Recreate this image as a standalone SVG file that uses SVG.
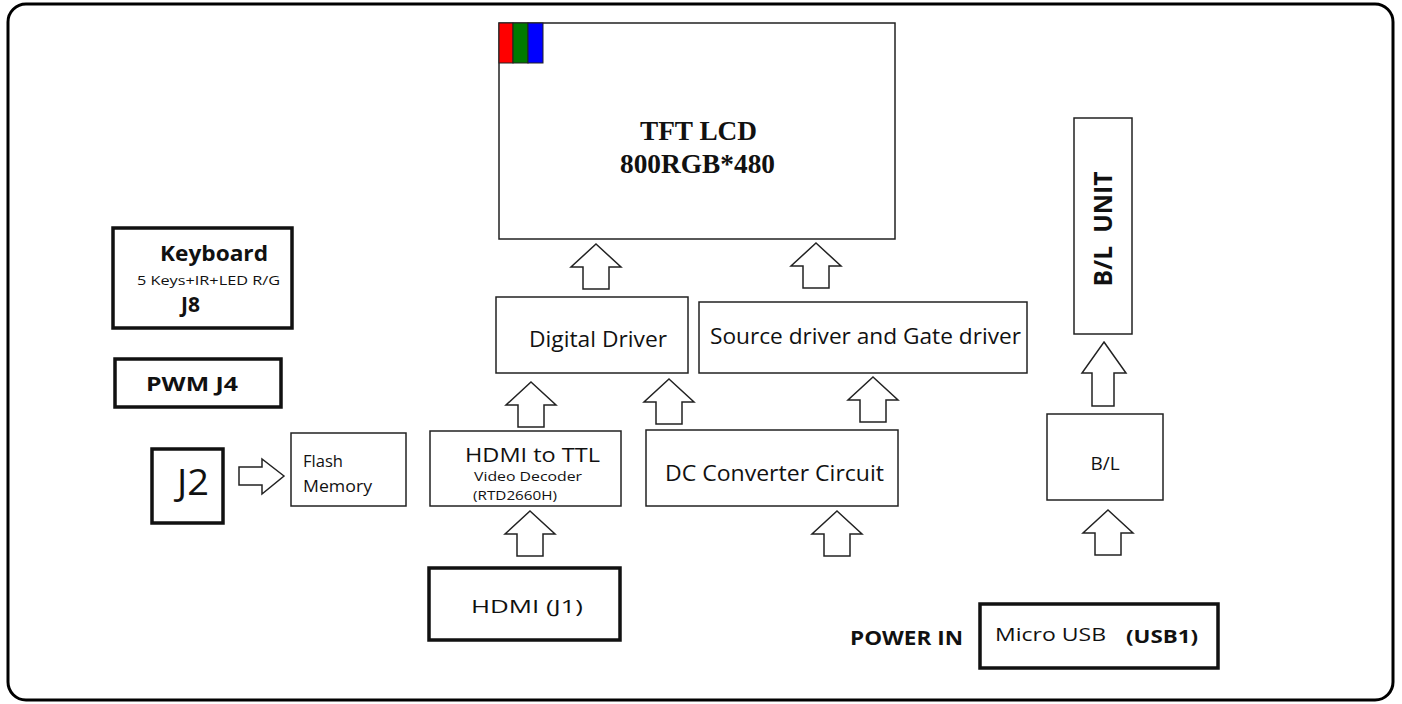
<svg xmlns="http://www.w3.org/2000/svg" width="1402" height="704" viewBox="0 0 1402 704">
<style>
.thin{fill:#fff;stroke:#222;stroke-width:1.5}
.thick{fill:#fff;stroke:#111;stroke-width:3.5}
.arr{fill:#fff;stroke:#222;stroke-width:1.5;stroke-linejoin:miter}
.s{font-family:"Open Sans","Noto Sans",sans-serif;fill:#111}
.b{font-weight:bold}
.serif{font-family:"Liberation Serif","DejaVu Serif",serif;font-weight:bold;fill:#111}
</style>
<defs>
<path id="up" d="M0,0 L25,23 L13,23 L13,45 L-13,45 L-13,23 L-25,23 Z"/>
</defs>
<rect x="8" y="4" width="1385" height="696" rx="18" fill="#fff" stroke="#000" stroke-width="3"/>

<g id="tft">
<rect class="thin" x="499" y="23" width="396" height="216"/>
<rect x="499" y="23" width="14" height="40" fill="#f00" stroke="#222" stroke-width="1"/>
<rect x="513" y="23" width="15" height="40" fill="#007a00" stroke="#222" stroke-width="1"/>
<rect x="528" y="23" width="15" height="40" fill="#00f" stroke="#222" stroke-width="1"/>
<text class="serif" x="640" y="140" font-size="27" textLength="117" lengthAdjust="spacingAndGlyphs">TFT LCD</text>
<text class="serif" x="620" y="173" font-size="27" textLength="155" lengthAdjust="spacingAndGlyphs">800RGB*480</text>
</g>

<g id="keyboard">
<rect class="thick" x="113" y="228" width="179" height="100"/>
<text class="s b" x="160" y="261" font-size="21" textLength="108" lengthAdjust="spacingAndGlyphs">Keyboard</text>
<text class="s" x="137" y="285" font-size="12.5" textLength="143" lengthAdjust="spacingAndGlyphs">5 Keys+IR+LED R/G</text>
<text class="s b" x="181" y="312" font-size="21">J8</text>
</g>

<g id="pwm">
<rect class="thick" x="115" y="359" width="166" height="48"/>
<text class="s b" x="146" y="391" font-size="20" textLength="92" lengthAdjust="spacingAndGlyphs">PWM J4</text>
</g>

<g id="j2">
<rect class="thick" x="152" y="449" width="71" height="74"/>
<text class="s" x="177" y="495" font-size="36" textLength="32" lengthAdjust="spacingAndGlyphs">J2</text>
</g>

<g id="flash">
<rect class="thin" x="291" y="433" width="115" height="73"/>
<text class="s" x="303" y="467" font-size="15.5" textLength="40" lengthAdjust="spacingAndGlyphs">Flash</text>
<text class="s" x="303" y="492" font-size="15.5" textLength="69" lengthAdjust="spacingAndGlyphs">Memory</text>
</g>

<g id="digital">
<rect class="thin" x="496" y="297" width="192" height="76"/>
<text class="s" x="529" y="347" font-size="21" textLength="138" lengthAdjust="spacingAndGlyphs">Digital Driver</text>
</g>

<g id="source">
<rect class="thin" x="699" y="302" width="328" height="71"/>
<text class="s" x="710" y="344" font-size="21" textLength="311" lengthAdjust="spacingAndGlyphs">Source driver and Gate driver</text>
</g>

<g id="hdmittl">
<rect class="thin" x="430" y="431" width="191" height="75"/>
<text class="s" x="465" y="462" font-size="20" textLength="135" lengthAdjust="spacingAndGlyphs">HDMI to TTL</text>
<text class="s" x="474" y="481" font-size="12.5" textLength="108" lengthAdjust="spacingAndGlyphs">Video Decoder</text>
<text class="s" x="473" y="500" font-size="12" textLength="84" lengthAdjust="spacingAndGlyphs">(RTD2660H)</text>
</g>

<g id="dc">
<rect class="thin" x="646" y="430" width="252" height="76"/>
<text class="s" x="665" y="481" font-size="21" textLength="219" lengthAdjust="spacingAndGlyphs">DC Converter Circuit</text>
</g>

<g id="hdmij1">
<rect class="thick" x="429" y="568" width="191" height="72"/>
<text class="s" x="471" y="613" font-size="19" textLength="112" lengthAdjust="spacingAndGlyphs">HDMI (J1)</text>
</g>

<g id="power">
<text class="s b" x="850" y="645" font-size="19" textLength="113" lengthAdjust="spacingAndGlyphs">POWER IN</text>
</g>

<g id="usb">
<rect class="thick" x="980" y="604" width="238" height="64"/>
<text class="s" x="995" y="641" font-size="18" textLength="111" lengthAdjust="spacingAndGlyphs">Micro USB</text>
<text class="s b" x="1126" y="643" font-size="18" textLength="72" lengthAdjust="spacingAndGlyphs">(USB1)</text>
</g>

<g id="blunit">
<rect class="thin" x="1074" y="118" width="58" height="216"/>
<text class="s b" transform="translate(1112,229) rotate(-90)" x="0" y="0" font-size="25" text-anchor="middle" textLength="115" lengthAdjust="spacingAndGlyphs">B/L&#160;&#160;UNIT</text>
</g>

<g id="bl">
<rect class="thin" x="1047" y="414" width="116" height="86"/>
<text class="s" x="1105" y="470" font-size="19" text-anchor="middle">B/L</text>
</g>

<g id="connectors">
<use href="#up" class="arr" x="596" y="244"/>
<use href="#up" class="arr" x="816" y="243"/>
<use href="#up" class="arr" x="531" y="382"/>
<use href="#up" class="arr" x="669" y="379"/>
<use href="#up" class="arr" x="873" y="377"/>
<use href="#up" class="arr" x="530" y="511"/>
<use href="#up" class="arr" x="837" y="511"/>
<use href="#up" class="arr" x="1108" y="510"/>
<path class="arr" d="M1104,342 L1126,373 L1114,373 L1114,406 L1092,406 L1092,373 L1082,373 Z"/>
<path class="arr" d="M284,476 L262,459 L262,467 L239,467 L239,485 L262,485 L262,494 Z"/>
</g>
</svg>
